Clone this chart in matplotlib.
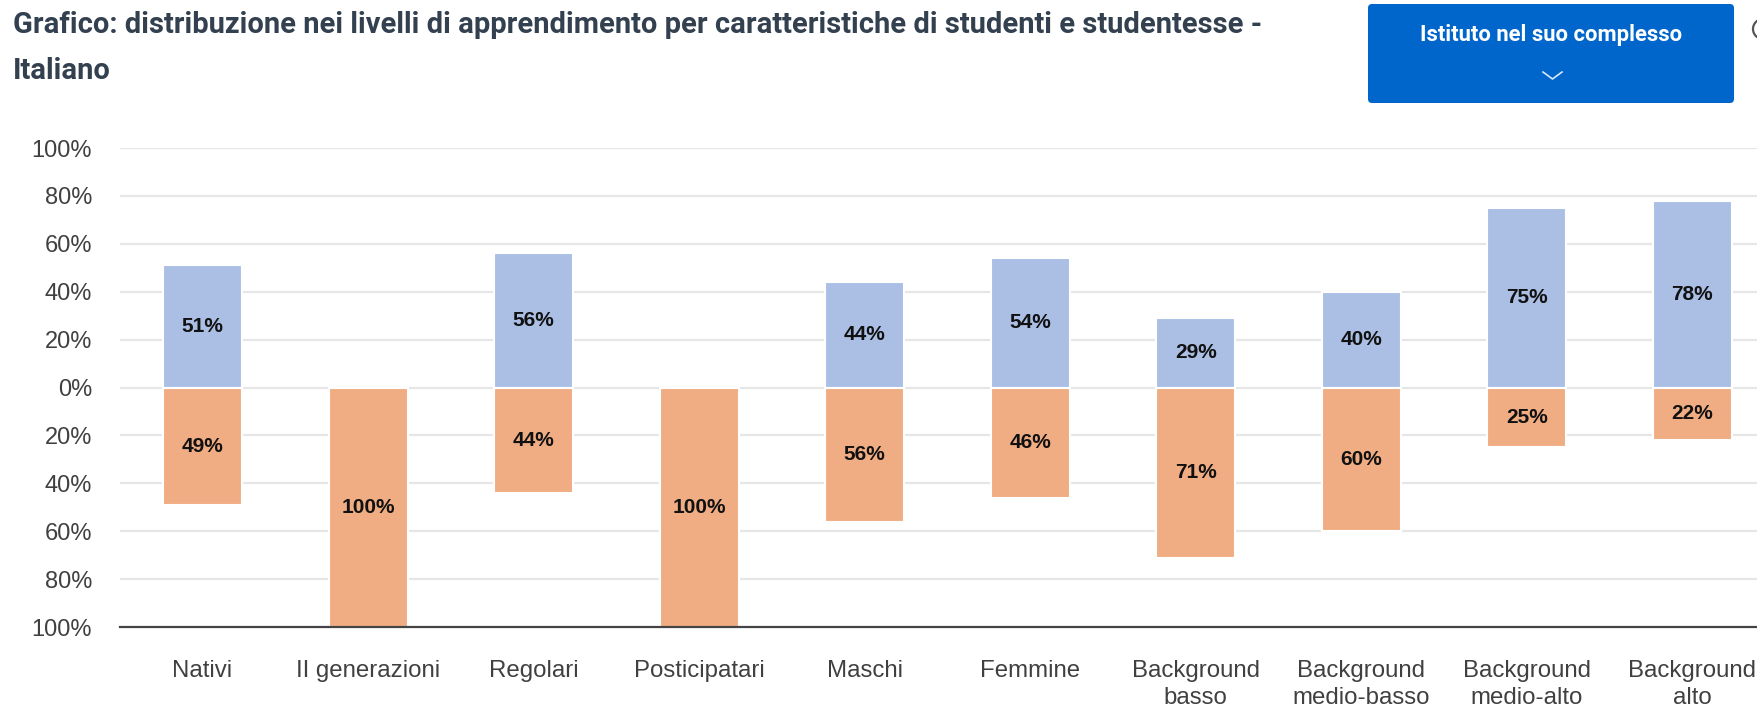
import matplotlib.pyplot as plt
import numpy as np
from matplotlib.patches import FancyBboxPatch, Circle
from matplotlib.lines import Line2D
from matplotlib.transforms import IdentityTransform

# Dati: percentuali per categoria
categorie = ["Nativi", "II generazioni", "Regolari", "Posticipatari", "Maschi",
             "Femmine", "Background\nbasso", "Background\nmedio-basso",
             "Background\nmedio-alto", "Background\nalto"]
sopra = [51, 0, 56, 0, 44, 54, 29, 40, 75, 78]
sotto = [49, 100, 44, 100, 56, 46, 71, 60, 25, 22]
yticks = [-100, -80, -60, -40, -20, 0, 20, 40, 60, 80, 100]

W, H = 1758, 705
BLU = "#abbfe5"
ARANCIO = "#f0ad83"
TESTO = "#33404f"

plt.rcParams['font.family'] = ['Liberation Sans', 'DejaVu Sans']

fig = plt.figure(figsize=(W / 100, H / 100), dpi=100)

# asse: l'ultima categoria e' tagliata dal bordo destro
left, right = 119.75, 1775.0
top, bottom = 148.0, 627.0
ax = fig.add_axes([left / W, (H - bottom) / H, (right - left) / W, (bottom - top) / H])

x = np.arange(len(categorie))
ax.bar(x, sopra, width=0.477, color=BLU, edgecolor="white", linewidth=1.5, zorder=3)
ax.bar(x, [-v for v in sotto], width=0.477, color=ARANCIO, edgecolor="white",
       linewidth=1.5, zorder=3)

for xi, v in zip(x, sopra):
    if v > 0:
        ax.text(xi, v / 2, f"{v}%", ha="center", va="center", fontsize=15,
                fontweight="bold", color="#111111", zorder=4)
for xi, v in zip(x, sotto):
    if v > 0:
        ax.text(xi, -v / 2, f"{v}%", ha="center", va="center", fontsize=15,
                fontweight="bold", color="#111111", zorder=4)

ax.set_xlim(-0.5, len(categorie) - 0.5)
ax.set_ylim(-100, 100)
ax.set_yticks(yticks)
ax.set_yticklabels([f"{abs(t)}%" for t in yticks], fontsize=17, color="#404040")
ax.set_xticks(x)
ax.set_xticklabels(categorie, fontsize=17.3, color="#404040", linespacing=1.3, va="top")
ax.tick_params(axis="both", length=0)
ax.tick_params(axis="y", pad=20)
ax.tick_params(axis="x", pad=24)

for t in yticks[1:]:
    ax.axhline(t, color="#e6e6e6", linewidth=1.6, zorder=1)
for s in ["top", "right", "left"]:
    ax.spines[s].set_visible(False)
ax.spines["bottom"].set_color("#444444")
ax.spines["bottom"].set_linewidth(1.6)
ax.spines["bottom"].set_zorder(5)

# titolo su due righe
renderer = fig.canvas.get_renderer()
t1 = fig.text(13 / W, 1 - 33 / H,
              "Grafico: distribuzione nei livelli di apprendimento per caratteristiche di studenti e studentesse -",
              fontsize=17, fontweight="bold", color=TESTO, va="baseline",
              family=["Roboto", "DejaVu Sans"])
w1 = t1.get_window_extent(renderer).width
fs = 17 * (1249 / w1)
t1.set_fontsize(fs)
fig.text(13 / W, 1 - 79 / H, "Italiano", fontsize=fs, fontweight="bold", color=TESTO,
         va="baseline", family=["Roboto", "DejaVu Sans"])

# pulsante
disp = IdentityTransform()
btn = FancyBboxPatch((1368, H - 103), 366, 99, boxstyle="round,pad=0,rounding_size=4",
                     facecolor="#0066cc", edgecolor="none", transform=disp)
fig.patches.append(btn)
tb = fig.text(1551 / W, 1 - 41.5 / H, "Istituto nel suo complesso", fontsize=14,
              fontweight="bold", color="white", ha="center", va="baseline",
              family=["Roboto", "DejaVu Sans"])
wb = tb.get_window_extent(renderer).width
tb.set_fontsize(14 * (263 / wb))
fig.lines.append(Line2D([1543, 1552.5, 1562], [H - 72, H - 79, H - 72], color="#dbe7f7",
                        linewidth=1.2, transform=disp))

# icona informazioni tagliata dal bordo
fig.patches.append(Circle((1763, H - 29), 10, facecolor="none", edgecolor="#555555",
                          linewidth=1.6, transform=disp))

fig.savefig("out.png", dpi=100)
